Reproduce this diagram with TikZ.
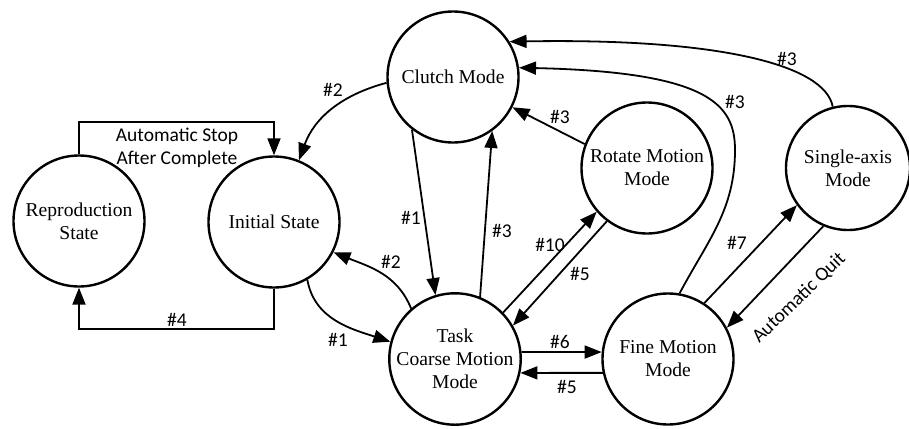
\documentclass[tikz,border=0pt]{standalone}
\usepackage{fontspec}
\setmainfont{Liberation Serif}
\newfontfamily\labfont{Carlito}
\usetikzlibrary{arrows.meta}
\begin{document}
\begin{tikzpicture}[x=1pt,y=-1pt,
  state/.style={circle,draw,line width=2.4pt,minimum size=131pt,inner sep=0pt,
    align=center,font=\fontsize{19.6}{23}\selectfont},
  conn/.style={line width=1.8pt,-{Triangle[length=17pt,width=13pt]}},
  plain/.style={line width=1.8pt},
  lab/.style={font=\labfont\fontsize{19.5}{23}\selectfont,inner sep=0pt,align=center}]
\useasboundingbox (0,0) rectangle (909,428);

% states
\node[state] (rep)    at (79,221)  {Reproduction\\State};
\node[state] (init)   at (274,222) {Initial State};
\node[state] (clutch) at (453,77)  {Clutch Mode};
\node[state] (task)   at (455,359) {Task\\Coarse Motion\\Mode};
\node[state] (rot)    at (647,168) {Rotate Motion\\Mode};
\node[state] (fine)   at (668,359) {Fine Motion\\Mode};
\node[state,minimum size=124pt] (single) at (848,168) {Single-axis\\Mode};

% reproduction <-> initial (orthogonal routes)
\draw[conn] (rep.north) |- (79,122) -| (init.north);
\draw[conn] (init.south) |- (79,329) -- (rep.south);
\node[lab] (lstop) at (177,148) {Automatic Stop\\After Complete};
\node[lab] (l4) at (177,320) {\#4};

% clutch mode
\draw[conn] (clutch.185) to[out=195,in=70] (init.68);
\node[lab] (l2a) at (333,90) {\#2};
\draw[conn] (clutch.232) -- (task.107);
\node[lab] (l1a) at (411,218) {\#1};
\draw[conn] (task.68) -- (clutch.306);
\node[lab] (l3a) at (502,231) {\#3};
\draw[conn] (rot.159) -- (clutch.333);
\node[lab] (l3b) at (560,117) {\#3};
\coordinate (bendF) at (735,150);
\draw[plain] (fine.80) to[out=62,in=-90] (bendF);
\draw[conn] (bendF) .. controls (735,105) and (710,72) .. (clutch.8);
\node[lab] (l3c) at (735,102) {\#3};
\draw[conn] (single.104) .. controls (825,65) and (720,38) .. (clutch.32);
\node[lab] (l3d) at (787,59) {\#3};

% initial <-> task
\draw[conn] (init.-60) to[out=-80,in=162] (task.165);
\node[lab] (l1b) at (338,340) {\#1};
\draw[conn] (task.131) to[out=112,in=-22] (init.-27);
\node[lab] (l2b) at (391,262) {\#2};

% task <-> rotate
\draw[conn] (task.44) -- (rot.221);
\node[lab] (l10) at (550,245) {\#10};
\draw[conn] (rot.233) -- (task.30);
\node[lab] (l5a) at (580,274) {\#5};

% task <-> fine
\draw[conn] (task.6) -- (fine.174);
\node[lab] (l6) at (560,342) {\#6};
\draw[conn] (fine.-168) -- (task.-12);
\node[lab] (l5b) at (567,387) {\#5};

% fine <-> single-axis
\draw[conn] (fine.57) -- (single.216);
\node[lab] (l7) at (737,243) {\#7};
\draw[conn] (single.247) -- (fine.28);
\node[lab,rotate=44] (lquit) at (799,298) {Automatic Quit};
\end{tikzpicture}
\end{document}
